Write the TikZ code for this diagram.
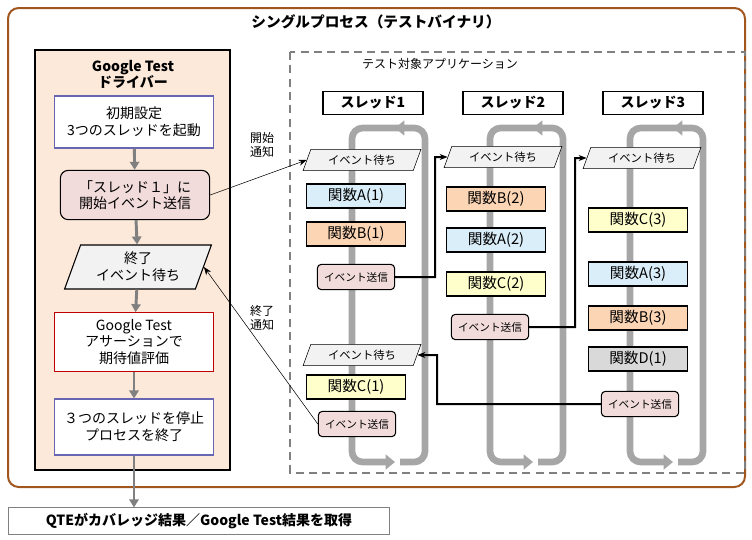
\documentclass[tikz,border=0pt]{standalone}
\usepackage{fontspec}
\setmainfont{Noto Sans CJK JP}
\usetikzlibrary{shapes,arrows.meta,calc,positioning}
\definecolor{frame}{HTML}{A0561C}
\definecolor{peach}{HTML}{FDE9D9}
\definecolor{fnA}{HTML}{DAEEF9}
\definecolor{fnB}{HTML}{FCD5B4}
\definecolor{fnC}{HTML}{FFFFCC}
\definecolor{fnD}{HTML}{D9D9D9}
\definecolor{send}{HTML}{F2DCDB}
\definecolor{loopg}{HTML}{A6A6A6}
\tikzset{
    x=0.75pt, y=-0.75pt, semithick,
    proc/.style = {draw, thick, fill=white, align=center, font=\fontsize{10.5}{12.5}\selectfont, minimum width=119pt, minimum height=39pt},
    fn/.style = {draw, thick, font=\fontsize{11}{12}\selectfont, minimum width=74pt, minimum height=18pt, inner sep=0pt},
    send/.style = {draw, thick, rounded corners=3pt, fill=send, font=\fontsize{8}{9}\selectfont, minimum width=58pt, minimum height=19pt, inner sep=1pt},
    wait/.style = {trapezium, trapezium left angle=70, trapezium right angle=110, draw, fill=black!5, font=\fontsize{8.5}{9}\selectfont, minimum height=16pt, inner xsep=-2pt, inner ysep=1pt},
    thread/.style = {draw, thick, font=\bfseries\fontsize{10.5}{12}\selectfont, minimum width=75pt, minimum height=17pt},
    flow/.style = {draw=gray, line width=2.2pt, -{Triangle[length=6pt,width=7pt]}},
    msg/.style = {line width=1.5pt, -{Stealth[length=6pt]}},
    note/.style = {-{Stealth[length=6pt]}, thin},
    cyc/.style = {draw=loopg, line width=5pt, rounded corners=8pt, -{Triangle[length=7pt,width=11pt]}}
}
\newcommand{\cycle}[2]{%
  \draw[cyc] (#1+48,128) -- (#1,128) -- (#1,462) -- (#1+43,462);
  \draw[cyc] (#1+48,462) -- (#2,462) -- (#2,128) -- (#1+43,128);}
\begin{document}
\begin{tikzpicture}
\useasboundingbox (0,0) rectangle (752,539);
% outer frame
\draw[frame, line width=1.5pt, rounded corners=8pt] (8,8) rectangle (745,487);
\node[font=\bfseries\fontsize{11}{13}\selectfont] (title) at (376,22) {シングルプロセス（テストバイナリ）};
% driver
\draw[fill=peach, thick] (35,50) rectangle (230,470);
\node[font=\bfseries\fontsize{10.5}{12}\selectfont, align=center] (drv) at (133,74) {Google Test\\ドライバー};
\node[proc, draw=blue!50!black!60] (init) at (134,122) {初期設定\\3つのスレッドを起動};
\node[proc, fill=send, rounded corners=6pt, minimum width=112pt, minimum height=37pt] (start) at (135,195) {「スレッド１」に\\開始イベント送信};
\node[wait, thick, font=\fontsize{10.5}{12.5}\selectfont, align=center, minimum height=33pt, inner xsep=0pt] (fin) at (138,267) {終了\\イベント待ち};
\node[proc, draw=red!75!black, minimum height=44pt] (assert) at (134,342) {Google Test\\アサーションで\\期待値評価};
\node[proc, draw=blue!50!black!60, minimum height=42pt] (stop) at (134,427) {３つのスレッドを停止\\プロセスを終了};
\node[draw=gray, fill=white, font=\bfseries\fontsize{10.5}{12}\selectfont, minimum width=286pt, minimum height=20pt, anchor=west] (qte) at (8,521) {QTEがカバレッジ結果／Google Test結果を取得};
\draw[flow] (init) -- (start);
\draw[flow] (start) -- (fin);
\draw[flow] (fin) -- (assert);
\draw[flow] (assert) -- (stop);
\draw[flow] (stop) -- (qte.north -| stop);
% application
\draw[gray, thick, dash pattern=on 6pt off 4pt] (290,52) rectangle (745,473);
\node[font=\fontsize{9}{11}\selectfont] (app) at (440,64) {テスト対象アプリケーション};
\node[thread] (t1) at (373,103) {スレッド1};
\node[thread] (t2) at (513,103) {スレッド2};
\node[thread] (t3) at (653,103) {スレッド3};
\cycle{352}{425}
\cycle{490}{563}
\cycle{630}{703}
% thread 1
\node[wait] (w1) at (362,160) {イベント待ち};
\node[fn, fill=fnA] (a1) at (356,196) {関数A(1)};
\node[fn, fill=fnB] (b1) at (356,234) {関数B(1)};
\node[send] (s1) at (356,277) {イベント送信};
\node[wait] (w1b) at (362,355) {イベント待ち};
\node[fn, fill=fnC] (c1) at (356,387) {関数C(1)};
\node[send] (s1b) at (357,424) {イベント送信};
% thread 2
\node[wait] (w2) at (503,157) {イベント待ち};
\node[fn, fill=fnB] (b2) at (496,199) {関数B(2)};
\node[fn, fill=fnA] (a2) at (496,240) {関数A(2)};
\node[fn, fill=fnC] (c2) at (496,284) {関数C(2)};
\node[send] (s2) at (490,327) {イベント送信};
% thread 3
\node[wait] (w3) at (642,158) {イベント待ち};
\node[fn, fill=fnC] (c3) at (638,220) {関数C(3)};
\node[fn, fill=fnA] (a3) at (638,274) {関数A(3)};
\node[fn, fill=fnB] (b3) at (638,318) {関数B(3)};
\node[fn, fill=fnD] (d1) at (638,359) {関数D(1)};
\node[send] (s3) at (640,404) {イベント送信};
% events
\draw[note] (start.east) -- (w1.west);
\node[font=\fontsize{9}{11}\selectfont, align=center] (go) at (262,145) {開始\\通知};
\draw[note] (s1b.west) -- (fin.east);
\node[font=\fontsize{9}{11}\selectfont, align=center] (end) at (262,318) {終了\\通知};
\draw[msg] (s1.east) -| (435,157) -- (w2.west);
\draw[msg] (s2.east) -| (575,158) -- (w3.west);
\draw[msg] (s3.west) -| (437,355) -- (w1b.east);
\end{tikzpicture}
\end{document}
